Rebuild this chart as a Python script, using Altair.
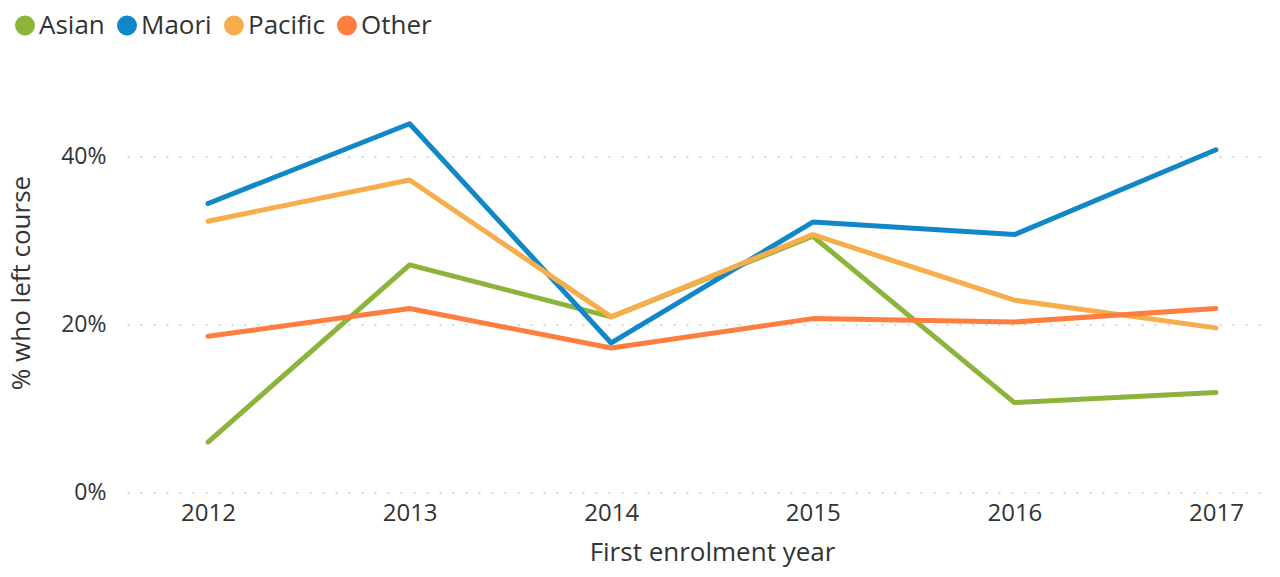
import altair as alt
import pandas as pd

years = [2012, 2013, 2014, 2015, 2016, 2017]
groups = ["Asian", "Maori", "Pacific", "Other"]
colors = ["#8CB43A", "#1287C8", "#F8AD4C", "#FD7E3E"]

asian = [0.060, 0.271, 0.209, 0.305, 0.107, 0.119]
maori = [0.344, 0.439, 0.178, 0.322, 0.307, 0.408]
pacific = [0.323, 0.372, 0.209, 0.307, 0.229, 0.196]
other = [0.186, 0.219, 0.172, 0.207, 0.203, 0.219]

series = {"Asian": asian, "Maori": maori, "Pacific": pacific, "Other": other}
rows = []
for gi, g in enumerate(groups):
    for y, v in zip(years, series[g]):
        rows.append({"year": str(y), "group": g, "order": gi, "value": v})
df = pd.DataFrame(rows)

FONT = "Open Sans"

chart = alt.Chart(df).mark_line(
    strokeWidth=5, strokeCap="round", strokeJoin="round"
).encode(
    x=alt.X(
        "year:O",
        scale=alt.Scale(type="point", padding=0.335, align=0.6),
        axis=alt.Axis(
            title="First enrolment year",
            labelAngle=0,
            ticks=False,
            domain=False,
            grid=False,
            labelPadding=9,
            titlePadding=14,
            titleX=585,
            labelFontSize=24,
        ),
    ),
    y=alt.Y(
        "value:Q",
        scale=alt.Scale(domain=[0, 0.5], nice=False),
        axis=alt.Axis(
            title="% who left course",
            values=[0, 0.2, 0.4],
            format=".0%",
            ticks=False,
            domain=False,
            grid=True,
            gridColor="#C8C8C8",
            gridDash=[2, 11],
            gridWidth=1.5,
            labelPadding=21,
            titlePadding=26,
            labelFontSize=23,
        ),
    ),
    color=alt.Color(
        "group:N",
        scale=alt.Scale(domain=groups, range=colors),
        legend=alt.Legend(
            title=None,
            orient="none",
            direction="horizontal",
            legendX=-115,
            legendY=-60,
            symbolType="circle",
            symbolSize=100,
            symbolStrokeWidth=10,
            symbolOpacity=1,
            labelOffset=1,
            columnPadding=-3,
            labelFontSize=26,
            labelFont=FONT,
            labelColor="#333333",
        ),
    ),
    order=alt.Order("order:Q"),
    detail="group:N",
).properties(
    width=1143,
    height=420,
    autosize=alt.AutoSizeParams(type="none"),
    padding={"left": 119, "top": 64.5, "right": 2, "bottom": 76},
).configure_view(
    stroke=None
).configure_axis(
    labelFont=FONT,
    titleFont=FONT,
    titleFontSize=26,
    labelColor="#333333",
    titleColor="#333333",
    titleFontWeight="normal",
)

chart.save("out.html", embed_options={"renderer": "svg", "actions": False})
